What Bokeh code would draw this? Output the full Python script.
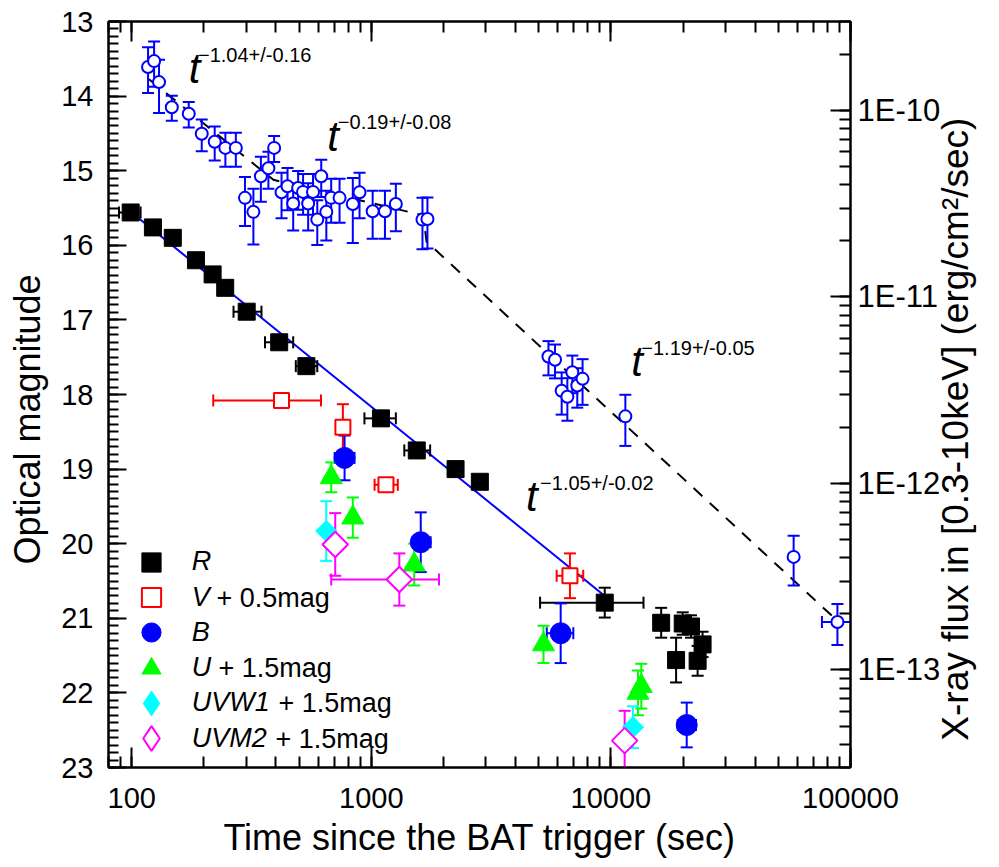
import math
from bokeh.plotting import figure
from bokeh.models import (Range1d, LogScale, LogAxis, LinearAxis, LogTicker, SingleIntervalTicker,
                          FixedTicker, CustomJSTickFormatter, Label, Legend, LegendItem)
from bokeh.embed import file_html
from bokeh.resources import INLINE

FONT = "Liberation Sans"

# ---------------- data ----------------
# X-ray (right axis, erg/cm^2/s, values in units of 1e-11)
xray_t = [117, 124, 130, 147, 173, 196, 222, 246, 272, 297, 322, 346, 372, 393, 422,
          447, 472, 495, 519, 545, 571, 595, 618, 649, 680, 737, 837, 893, 1013, 1140,
          1266, 1635, 1715, 5486, 5845, 6230, 6580, 6902, 7238, 7615, 11490, 57900, 88200]
xray_f11 = [17.1, 18.4, 14.2, 10.4, 9.6, 7.5, 6.8, 6.3, 6.3, 3.4, 2.86, 4.44, 4.9, 6.3, 3.64,
            3.92, 3.17, 3.84, 3.66, 3.17, 3.66, 2.60, 4.44, 2.86, 3.40, 3.40, 3.15, 3.64, 2.88, 2.88,
            3.15, 2.60, 2.62, 0.480, 0.461, 0.314, 0.292, 0.395, 0.335, 0.364, 0.229, 0.0404, 0.0181]
xray_e11 = [4.7, 5.0, 4.5, 1.6, 1.5, 1.45, 1.4, 1.3, 1.3, 1.0, 0.95, 1.2, 1.1, 1.0, 1.0,
            1.0, 0.9, 0.9, 0.9, 0.9, 0.9, 0.7, 1.0, 0.85, 0.9, 0.9, 1.2, 1.0, 0.83, 0.83,
            0.9, 0.8, 0.8, 0.10, 0.095, 0.08, 0.075, 0.09, 0.08, 0.10, 0.07, 0.012, 0.0045]
xray_tlo = [0] * 42 + [76000]
xray_thi = [0] * 42 + [100500]
xray_flux = [v * 1e-11 for v in xray_f11]
xray_ferr = [v * 1e-11 for v in xray_e11]

# X-ray broken power-law fit (dashed)
xfit_t = [118, 390, 1650, 1700, 88000]
xfit_f = [1.47e-10, 4.25e-11, 2.74e-11, 1.98e-11, 1.84e-13]

# R band
R_t = [99, 122.6, 148.4, 185.4, 217.6, 245.6, 301.9, 412.6, 535.7, 1097, 1548, 2247, 2838,
       9426, 16210, 19940, 21590, 24130, 18710, 23010]
R_mag = [15.56, 15.76, 15.90, 16.20, 16.39, 16.57, 16.89, 17.30, 17.62, 18.32, 18.75, 19.00, 19.17,
         20.79, 21.06, 21.07, 21.11, 21.35, 21.56, 21.57]
R_err = [0] * 13 + [0.2, 0.2, 0.15, 0.15, 0.17, 0.3, 0.2]
R_tlo = [88.5, 0, 0, 0, 0, 0, 266, 360, 484, 936, 1373, 0, 0, 5063, 0, 0, 0, 0, 0, 0]
R_thi = [108.9, 0, 0, 0, 0, 0, 348, 472, 595, 1266, 1760, 0, 0, 13680, 0, 0, 0, 0, 0, 0]
Rfit_t = [99, 9430]
Rfit_mag = [15.55, 20.70]

# V + 0.5 mag
V_t = [421.8, 760.9, 1151, 6745]
V_mag = [18.08, 18.44, 19.21, 20.43]
V_err = [0, 0.31, 0, 0.3]
V_tlo = [218.9, 0, 1032, 5937]
V_thi = [616.6, 0, 1290, 7664]

# B
B_t = [773.3, 1608, 6171, 20720]
B_mag = [18.85, 19.98, 21.20, 22.43]
B_err = [0.3, 0.4, 0.4, 0.3]
B_tlo = [703, 1486, 5400, 19010]
B_thi = [851, 1769, 6968, 22650]

# U + 1.5 mag
U_t = [680.2, 837.1, 1510, 5231, 12970, 13390]
U_mag = [19.11, 19.65, 20.28, 21.35, 22.00, 21.91]
U_err = [0.2, 0.27, 0.28, 0.25, 0.3, 0.3]

# UVW1 + 1.5 mag
W1_t = [648.6, 12360]
W1_mag = [19.83, 22.46]
W1_err = [0.4, 0.28]

# UVM2 + 1.5 mag
M2_t = [707, 1309, 11410]
M2_mag = [20.01, 20.48, 22.64]
M2_err = [0.42, 0.35, 0.4]
M2_tlo = [0, 680.2, 0]
M2_thi = [0, 1917, 0]

# power-law annotations
ann_t = [172.9, 655, 12170, 4417]
ann_mag = [13.63, 14.54, 17.56, 19.37]
ann_sup_t = [189, 725, 13390, 5063]
ann_sup_mag = [13.45, 14.35, 17.37, 19.18]
ann_text = ["\u22121.04+/-0.16", "\u22120.19+/-0.08", "\u22121.19+/-0.05", "\u22121.05+/-0.02"]

legend_names = ["R", "V", "B", "U", "UVW1", "UVM2"]
legend_suffix = ["", "+ 0.5mag", "", "+ 1.5mag", "+ 1.5mag", "+ 1.5mag"]

XRAY_TITLE = "X-ray flux in [0.3-10keV] (erg/cm\u00b2/sec)"
XRAY_TITLE_POS_MAG = 19.50   # tick that carries the right-hand title

# ---------------- figure ----------------
p = figure(width=999, height=867, x_axis_type="log",
           x_range=Range1d(80, 1e5), y_range=Range1d(23, 13),
           output_backend="svg", toolbar_location=None,
           min_border_left=108, min_border_right=143, min_border_top=21, min_border_bottom=100)
p.extra_y_ranges = {"flux": Range1d(3e-14, 3e-10)}
p.extra_y_scales = {"flux": LogScale()}
p.xgrid.visible = False
p.ygrid.visible = False
p.outline_line_color = "black"
p.outline_line_width = 2
p.background_fill_color = "white"
p.border_fill_color = "white"

xa = p.xaxis[0]
ya = p.yaxis[0]


def style_axis(ax, maj=20, mnr=11, fs="29px"):
    ax.axis_line_width = 2
    ax.axis_line_color = "black"
    ax.major_tick_in = maj
    ax.major_tick_out = 0
    ax.minor_tick_in = mnr
    ax.minor_tick_out = 0
    ax.major_tick_line_width = 2
    ax.minor_tick_line_width = 2
    ax.major_label_text_font = FONT
    ax.major_label_text_font_size = fs
    ax.major_label_text_color = "black"
    ax.axis_label_text_font = FONT
    ax.axis_label_text_font_style = "normal"
    ax.axis_label_text_font_size = "36px"
    ax.axis_label_text_color = "black"


xa.ticker = LogTicker(num_minor_ticks=10)
xa.formatter = CustomJSTickFormatter(code="return tick.toFixed(0);")
style_axis(xa)
xa.major_label_standoff = 20
xa.axis_label = "Time since the BAT trigger (sec)"
xa.axis_label_standoff = 6

ya.ticker = SingleIntervalTicker(interval=1, num_minor_ticks=10)
style_axis(ya, maj=18, mnr=10)
ya.major_label_standoff = 15
# trailing no-break spaces shift the centred title slightly down, as in the original
ya.axis_label = "Optical magnitude" + "\u00a0" * 5
ya.axis_label_standoff = 10

top = LogAxis(ticker=LogTicker(num_minor_ticks=10),
              formatter=CustomJSTickFormatter(code="return '';"))
style_axis(top, fs="0px")
top.major_label_standoff = 0
p.add_layout(top, "above")

right = LogAxis(y_range_name="flux", ticker=LogTicker(num_minor_ticks=10),
                formatter=CustomJSTickFormatter(code="return '1E' + Math.round(Math.log10(tick));"))
style_axis(right, fs="31px")
right.major_label_standoff = 7
p.add_layout(right, "right")

# right-hand title, drawn as a single rotated tick label of a bare axis so it reads bottom-to-top
title_axis = LinearAxis(ticker=FixedTicker(ticks=[XRAY_TITLE_POS_MAG], minor_ticks=[]),
                        formatter=CustomJSTickFormatter(code="return %r;" % XRAY_TITLE),
                        major_label_orientation=math.pi / 2)
title_axis.axis_line_color = None
title_axis.major_tick_line_color = None
title_axis.minor_tick_line_color = None
title_axis.major_tick_in = 0
title_axis.major_tick_out = 0
title_axis.minor_tick_in = 0
title_axis.minor_tick_out = 0
title_axis.major_label_standoff = 12
title_axis.major_label_text_font = FONT
title_axis.major_label_text_font_size = "37px"
title_axis.major_label_text_color = "black"
p.add_layout(title_axis, "right")


# ---------------- helpers for error bars ----------------
def vbars(t, y, err, color, yr="default"):
    idx = [i for i, e in enumerate(err) if e > 0]
    if not idx:
        return
    tt = [t[i] for i in idx]
    lo = [y[i] - err[i] for i in idx]
    hi = [y[i] + err[i] for i in idx]
    p.segment(tt, lo, tt, hi, line_color=color, line_width=2, y_range_name=yr)
    p.scatter(tt + tt, lo + hi, marker="dash", size=12, line_color=color,
              line_width=2, y_range_name=yr)


def hbars(tlo, thi, y, color, yr="default"):
    idx = [i for i, v in enumerate(tlo) if v > 0]
    if not idx:
        return
    lo = [tlo[i] for i in idx]
    hi = [thi[i] for i in idx]
    yy = [y[i] for i in idx]
    p.segment(lo, yy, hi, yy, line_color=color, line_width=2, y_range_name=yr)
    p.scatter(lo + hi, yy + yy, marker="dash", angle=math.pi / 2, size=12,
              line_color=color, line_width=2, y_range_name=yr)


# fit lines
p.line(xfit_t, xfit_f, line_color="black", line_width=2, line_dash="12 10", y_range_name="flux")
p.line(Rfit_t, Rfit_mag, line_color="#0000FF", line_width=2)

# X-ray
vbars(xray_t, xray_flux, xray_ferr, "#0000FF", "flux")
hbars(xray_tlo, xray_thi, xray_flux, "#0000FF", "flux")
p.scatter(xray_t, xray_flux, marker="circle", size=12, fill_color="white",
          line_color="#0000FF", line_width=2, y_range_name="flux")

# optical error bars
vbars(R_t, R_mag, R_err, "black")
hbars(R_tlo, R_thi, R_mag, "black")
vbars(V_t, V_mag, V_err, "#FF0000")
hbars(V_tlo, V_thi, V_mag, "#FF0000")
vbars(B_t, B_mag, B_err, "#0000FF")
hbars(B_tlo, B_thi, B_mag, "#0000FF")
vbars(U_t, U_mag, U_err, "#00FF00")
vbars(W1_t, W1_mag, W1_err, "#00FFFF")
vbars(M2_t, M2_mag, M2_err, "#FF00FF")
hbars(M2_tlo, M2_thi, M2_mag, "#FF00FF")

rR = p.scatter(R_t, R_mag, marker="square", size=17, fill_color="black", line_color="black")
rV = p.scatter(V_t, V_mag, marker="square", size=15, fill_color="white", line_color="#FF0000", line_width=2)
rB = p.scatter(B_t, B_mag, marker="circle", size=21, fill_color="#0000FF", line_color="#0000FF")
rU = p.scatter(U_t, U_mag, marker="triangle", size=22, fill_color="#00FF00", line_color="#00FF00")
rW = p.scatter(W1_t, W1_mag, marker="square", angle=math.pi / 4, size=15,
               fill_color="#00FFFF", line_color="#00FFFF")
rM = p.scatter(M2_t, M2_mag, marker="square", angle=math.pi / 4, size=18,
               fill_color="white", line_color="#FF00FF", line_width=2)

# legend-only swatches for the diamonds (legend glyphs are never rotated); NaN -> not drawn in plot
nan = float("nan")
lW = p.scatter([nan], [nan], marker="diamond", fill_color="#00FFFF", line_color="#00FFFF")
lM = p.scatter([nan], [nan], marker="diamond", fill_color="white", line_color="#FF00FF", line_width=2)

# legend: one single-item legend per entry (lets markers be large while rows stay close)
centers = [205.3 - 35.3 * i for i in range(6)]
boxes = [48, 48, 48, 48, 62, 62]
for name, r, cy, bx in zip(legend_names, [rR, rV, rB, rU, lW, lM], centers, boxes):
    lg = Legend(items=[LegendItem(label=name, renderers=[r])], location=(42.7 - bx / 2, cy - bx / 2),
                orientation="vertical", glyph_width=bx, glyph_height=bx, padding=0, margin=0,
                spacing=0, label_standoff=int(round(41 - bx / 2)), label_text_font=FONT,
                label_text_font_size="27px", label_text_font_style="italic", label_text_color="black",
                border_line_color=None, background_fill_alpha=0)
    p.add_layout(lg)

suffix_x = [0, 108, 0, 110, 170, 167]
for i, s in enumerate(legend_suffix):
    if s:
        p.add_layout(Label(x=suffix_x[i], y=centers[i], x_units="screen", y_units="screen",
                           text=s, text_font=FONT, text_font_size="27px",
                           text_baseline="middle", text_align="left", text_color="black"))

# power-law annotations
for i in range(len(ann_t)):
    p.add_layout(Label(x=ann_t[i], y=ann_mag[i], text="t", text_font=FONT,
                       text_font_size="42px", text_font_style="italic",
                       text_baseline="alphabetic", text_color="black"))
    p.add_layout(Label(x=ann_sup_t[i], y=ann_sup_mag[i], text=ann_text[i], text_font=FONT,
                       text_font_size="20px", text_baseline="alphabetic", text_color="black"))

open("out.html", "w").write(file_html(p, INLINE))
